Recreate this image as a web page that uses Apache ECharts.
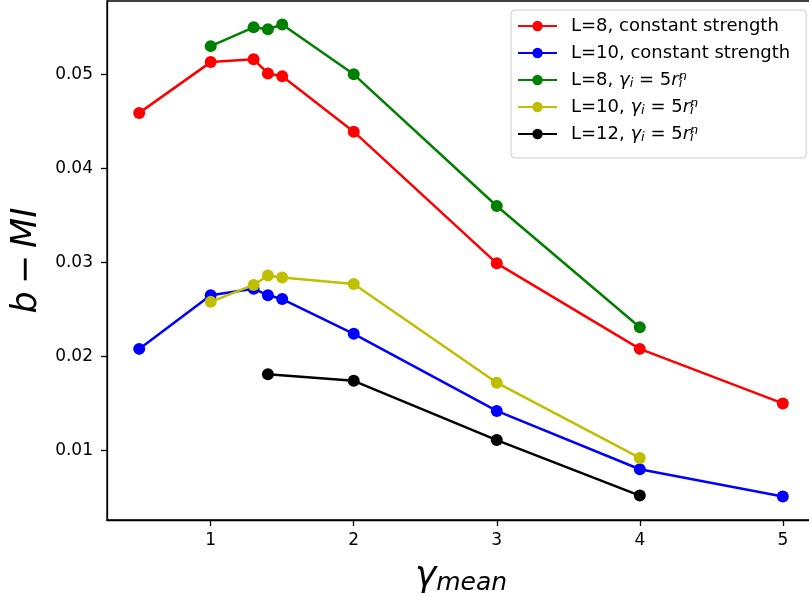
<!DOCTYPE html>
<html>
<head>
<meta charset="utf-8">
<script src="https://cdn.jsdelivr.net/npm/echarts@6/dist/echarts.min.js"></script>
<style>
  html, body { margin: 0; padding: 0; background: #ffffff; }
  #chart { width: 809px; height: 597px; }
</style>
</head>
<body>
<div id="chart"></div>
<script>
// gamma_mean values and b-MI for each system
const xL8const  = [0.5, 1, 1.3, 1.4, 1.5, 2, 3, 4, 5];
const yL8const  = [0.0459, 0.0513, 0.0516, 0.0501, 0.0498, 0.0439, 0.0299, 0.0208, 0.0150];

const xL10const = [0.5, 1, 1.3, 1.4, 1.5, 2, 3, 4, 5];
const yL10const = [0.0208, 0.0265, 0.0272, 0.0265, 0.0261, 0.0224, 0.0142, 0.0080, 0.0051];

const xL8pow  = [1, 1.3, 1.4, 1.5, 2, 3, 4];
const yL8pow  = [0.0530, 0.0550, 0.0548, 0.0553, 0.0500, 0.0360, 0.0231];

const xL10pow = [1, 1.3, 1.4, 1.5, 2, 3, 4];
const yL10pow = [0.0258, 0.0276, 0.0286, 0.0284, 0.0277, 0.0172, 0.0092];

const xL12pow = [1.4, 2, 3, 4];
const yL12pow = [0.0181, 0.0174, 0.0111, 0.0052];

const seriesNames = [
  'L=8, constant strength',
  'L=10, constant strength',
  'L=8, pow',
  'L=10, pow',
  'L=12, pow'
];
const seriesColors = ['#ff0000', '#0000ff', '#008000', '#bfbf00', '#000000'];

const xTicks = [1, 2, 3, 4, 5];
const yTicks = [0.01, 0.02, 0.03, 0.04, 0.05];

const pairs = (xs, ys) => xs.map((x, i) => [x, ys[i]]);
const seriesData = [
  pairs(xL8const, yL8const),
  pairs(xL10const, yL10const),
  pairs(xL8pow, yL8pow),
  pairs(xL10pow, yL10pow),
  pairs(xL12pow, yL12pow)
];

const FONT = 'DejaVu Sans';

// legend labels with the gamma_i = 5 r_i^n formula as rich text
function legendLabel(name) {
  const m = name.match(/^(L=\d+), pow$/);
  if (!m) return '{t|' + name + '}';
  return '{t|' + m[1] + ', }{it|γ}{sub|i}{t| = 5}{it|r}{subz|i}{sup|n}';
}

const chart = echarts.init(document.getElementById('chart'), null, { renderer: 'canvas' });

chart.setOption({
  animation: false,
  backgroundColor: '#ffffff',
  grid: {
    left: 107, top: 1, width: 708, height: 519,
    show: true, borderColor: '#000000', borderWidth: 1.3,
    containLabel: false,
    outerBoundsMode: 'none'
  },
  legend: {
    orient: 'vertical',
    left: 511, top: 10,
    padding: [6, 16, 14, 6],
    itemWidth: 39, itemHeight: 13,
    itemGap: 7,
    backgroundColor: '#ffffff',
    borderColor: '#cccccc', borderWidth: 1, borderRadius: 4,
    data: seriesNames,
    formatter: legendLabel,
    textStyle: {
      fontFamily: FONT, fontSize: 18, color: '#000000', lineHeight: 20,
      padding: [0, 0, 0, 9],
      rich: {
        it:   { fontFamily: FONT, fontStyle: 'italic', fontSize: 18, lineHeight: 20, color: '#000' },
        t:    { fontFamily: FONT, fontSize: 18, lineHeight: 20, color: '#000' },
        sub:  { fontFamily: FONT, fontStyle: 'italic', fontSize: 13, lineHeight: 13, color: '#000', verticalAlign: 'bottom', padding: [7, 0, 0, 0] },
        subz: { fontFamily: FONT, fontStyle: 'italic', fontSize: 13, lineHeight: 13, color: '#000', verticalAlign: 'bottom', padding: [7, 0, 0, 0], width: 0 },
        sup:  { fontFamily: FONT, fontStyle: 'italic', fontSize: 13, lineHeight: 13, color: '#000', verticalAlign: 'top', padding: [0, 0, 7, 0] }
      }
    }
  },
  xAxis: {
    type: 'value',
    min: 0.275, max: 5.225,
    name: '{g|γ}{s|mean}',
    nameLocation: 'middle',
    nameGap: 37,
    nameTextStyle: {
      rich: {
        g: { fontFamily: FONT, fontStyle: 'italic', fontSize: 36, color: '#000' },
        s: { fontFamily: FONT, fontStyle: 'italic', fontSize: 25, color: '#000', verticalAlign: 'bottom', padding: [14, 0, 0, 0] }
      }
    },
    axisLine: { show: true, lineStyle: { color: '#000', width: 1.3 } },
    axisTick: { show: true, inside: false, length: 6, lineStyle: { color: '#000', width: 1.3 }, customValues: xTicks },
    axisLabel: { show: true, margin: 12, fontFamily: FONT, fontSize: 17, color: '#000', customValues: xTicks, formatter: v => String(v) },
    splitLine: { show: false }
  },
  yAxis: {
    type: 'value',
    min: 0.0026, max: 0.0578,
    name: '{it|b}{n|−}{it|MI}',
    nameLocation: 'middle',
    nameRotate: 90,
    nameGap: 62,
    nameTextStyle: {
      rich: {
        it: { fontFamily: FONT, fontStyle: 'italic', fontSize: 35, color: '#000' },
        n:  { fontFamily: FONT, fontSize: 35, color: '#000', padding: [0, 7, 0, 7] }
      }
    },
    axisLine: { show: true, lineStyle: { color: '#000', width: 1.3 } },
    axisTick: { show: true, inside: false, length: 6, lineStyle: { color: '#000', width: 1.3 }, customValues: yTicks },
    axisLabel: { show: true, margin: 14, fontFamily: FONT, fontSize: 17, color: '#000', customValues: yTicks, formatter: v => v.toFixed(2) },
    splitLine: { show: false }
  },
  series: seriesNames.map((name, i) => ({
    name: name,
    type: 'line',
    data: seriesData[i],
    color: seriesColors[i],
    symbol: 'circle',
    symbolSize: 12,
    showAllSymbol: true,
    lineStyle: { width: 2.5, color: seriesColors[i] },
    itemStyle: { color: seriesColors[i] },
    emphasis: { disabled: true },
    z: 2 + i
  }))
});
</script>
</body>
</html>
